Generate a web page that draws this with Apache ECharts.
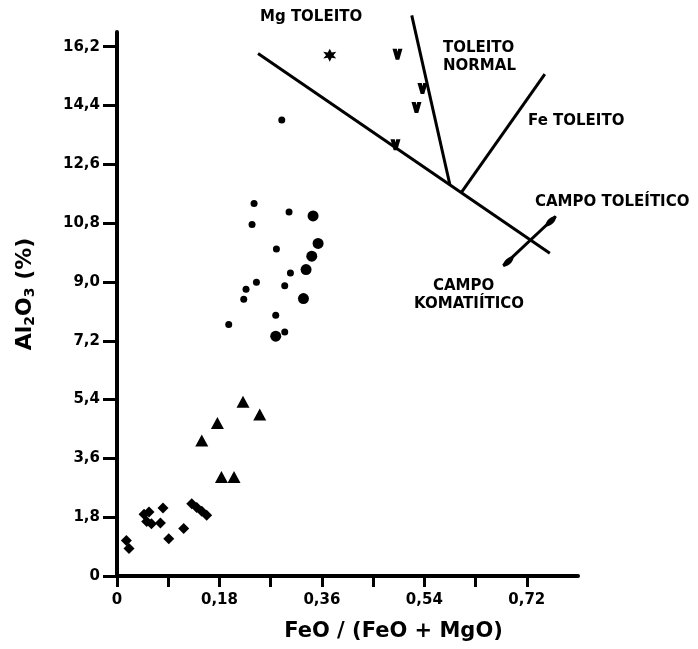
<!DOCTYPE html>
<html><head><meta charset="utf-8">
<script src="https://cdn.jsdelivr.net/npm/echarts@6/dist/echarts.min.js"></script>
<style>html,body{margin:0;padding:0;background:#fff}#c{width:698px;height:649px}</style>
</head><body><div id="c"></div>
<script>
// ---- axis ticks ----
const xTickValues = [0, 0.09, 0.18, 0.27, 0.36, 0.45, 0.54, 0.63, 0.72];
const xLabelValues = [0, 0.18, 0.36, 0.54, 0.72];
const xTickLabels = ['0', '0,18', '0,36', '0,54', '0,72'];
const yTickValues = [0, 1.8, 3.6, 5.4, 7.2, 9.0, 10.8, 12.6, 14.4, 16.2];
const yTickLabels = ['0', '1,8', '3,6', '5,4', '7,2', '9,0', '10,8', '12,6', '14,4', '16,2'];

// ---- samples: [FeO/(FeO+MgO), Al2O3 %] ----
const smallDots = [
  [0.2408, 11.40], [0.3023, 11.14], [0.2373, 10.76], [0.2801, 10.01], [0.3047, 9.27],
  [0.2450, 8.99], [0.2947, 8.88], [0.2267, 8.78], [0.2227, 8.47], [0.2789, 7.98],
  [0.1963, 7.70], [0.2947, 7.47], [0.2895, 13.96]
];
const largeDots = [
  [0.3445, 11.02], [0.3533, 10.18], [0.3422, 9.79], [0.3322, 9.38], [0.3276, 8.49], [0.2789, 7.34]
];
const triangles = [
  [0.2214, 5.33], [0.2508, 4.94], [0.1764, 4.68], [0.1489, 4.15], [0.1835, 3.03], [0.2056, 3.03]
];
const crosses = [
  [0.0165, 1.09], [0.0211, 0.84], [0.0475, 1.89], [0.0562, 1.96], [0.0605, 1.60],
  [0.0522, 1.67], [0.0808, 2.08], [0.0763, 1.62], [0.0909, 1.14], [0.1172, 1.45],
  [0.1313, 2.21], [0.1401, 2.10], [0.1489, 1.98], [0.1576, 1.86]
];
const stars = [[0.3738, 15.94]];
const vMarks = [[0.4928, 15.97], [0.5367, 14.92], [0.5262, 14.34], [0.4893, 13.20]];

// ---- field boundaries ----
const mainBoundary = [[0.2478, 15.99], [0.7605, 9.88]];
const normalBoundary = [[0.5179, 17.16], [0.5847, 11.99]];
const feBoundary = [[0.7517, 15.36], [0.6058, 11.76]];
const arrowShaft = [[0.7710, 11.01], [0.6787, 9.50]];
const arrowHeads = [[0.7622, 10.86], [0.6875, 9.63]];

const FONT = 'DejaVu Sans';
const lookup = (vals, labels) => v => {
  const i = vals.findIndex(t => Math.abs(t - v) < 1e-6);
  return i >= 0 ? labels[i] : '';
};

const chart = echarts.init(document.getElementById('c'), null, {renderer: 'canvas'});
const lineSeries = (d) => ({
  type: 'line', data: d, symbol: 'none', clip: false, silent: true,
  lineStyle: {color: '#000', width: 3}, z: 3
});
const scat = (d, symbol, size, extra) => Object.assign({
  type: 'scatter', data: d, symbol: symbol, symbolSize: size, clip: false,
  itemStyle: {color: '#000', opacity: 1}, z: 4
}, extra || {});

const txt = (text, x, y) => ({
  type: 'text', left: x, top: y,
  style: {text: text, fill: '#000', font: 'bold 15px "' + FONT + '"'}
});

chart.setOption({
  backgroundColor: '#fff',
  animation: false,
  grid: {left: 117, top: 32, width: 461, height: 544, containLabel: false},
  xAxis: {
    type: 'value', min: 0, max: 0.81,
    axisLine: {show: true, onZero: false, lineStyle: {color: '#000', width: 4}},
    axisTick: {show: true, customValues: xTickValues, length: 11, lineStyle: {color: '#000', width: 3}},
    axisLabel: {customValues: xLabelValues, formatter: lookup(xLabelValues, xTickLabels),
      margin: 17, color: '#000', fontFamily: FONT, fontWeight: 'bold', fontSize: 15},
    splitLine: {show: false},
    name: 'FeO / (FeO + MgO)', nameLocation: 'middle', nameGap: 45,
    nameTextStyle: {color: '#000', fontFamily: FONT, fontWeight: 'bold', fontSize: 21, padding: [0, 0, 0, 92]}
  },
  yAxis: {
    type: 'value', min: 0, max: 16.65,
    axisLine: {show: true, onZero: false, lineStyle: {color: '#000', width: 4}},
    axisTick: {show: true, customValues: yTickValues, length: 14, lineStyle: {color: '#000', width: 3}},
    axisLabel: {customValues: yTickValues, formatter: lookup(yTickValues, yTickLabels),
      margin: 17, color: '#000', fontFamily: FONT, fontWeight: 'bold', fontSize: 15},
    splitLine: {show: false},
    name: '{a|Al}{s|2}{a|O}{s|3}{a| (%)}', nameLocation: 'middle', nameGap: 80,
    nameTextStyle: {
      color: '#000', fontFamily: FONT, fontWeight: 'bold', fontSize: 22, padding: [0, 0, 0, 20],
      rich: {
        a: {fontFamily: FONT, fontWeight: 'bold', fontSize: 22, color: '#000'},
        s: {fontFamily: FONT, fontWeight: 'bold', fontSize: 14, color: '#000', verticalAlign: 'bottom', padding: [10, 0, 0, 0]}
      }
    }
  },
  series: [
    lineSeries(mainBoundary),
    lineSeries(normalBoundary),
    lineSeries(feBoundary),
    {
      type: 'lines', coordinateSystem: 'cartesian2d', silent: true, z: 3,
      data: [{coords: arrowShaft}], symbol: ['none', 'none'],
      lineStyle: {color: '#000', width: 3, opacity: 1}
    },
    scat(arrowHeads, 'path://M5,0 C8,5 8,15 5,20 C2,15 2,5 5,0 Z', [6, 15], {symbolRotate: -46}),
    scat(smallDots, 'circle', 7),
    scat(largeDots, 'circle', 11),
    scat(triangles, 'triangle', [13, 12]),
    scat(crosses, 'diamond', 11),
    scat(stars, 'path://M5,0 L6.4,3 L9.6,2.4 L7.6,5 L9.6,7.6 L6.4,7 L5,10 L3.6,7 L0.4,7.6 L2.4,5 L0.4,2.4 L3.6,3 Z', 13),
    scat(vMarks, 'path://M0,0 L4.3,0 L5,3 L5.7,0 L10,0 L6.8,10 L3.2,10 Z', [10, 11])
  ],
  graphic: [
    txt('Mg TOLEITO', 260, 10),
    txt('TOLEITO', 443, 41),
    txt('NORMAL', 443, 59),
    txt('Fe TOLEITO', 528, 114),
    txt('CAMPO TOLEÍTICO', 535, 195),
    txt('CAMPO', 433, 279),
    txt('KOMATIÍTICO', 414, 297)
  ]
});
</script></body></html>
